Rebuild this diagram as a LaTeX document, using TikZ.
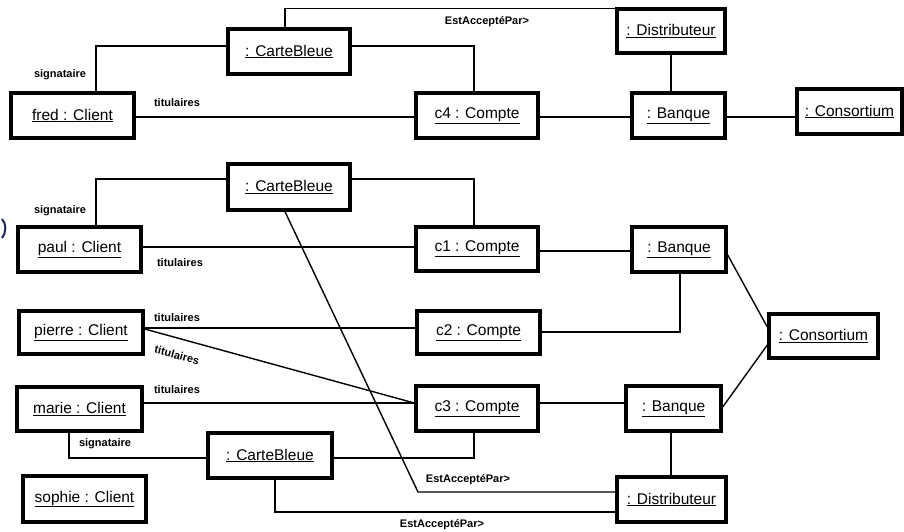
\documentclass[tikz,border=0pt]{standalone}
\usepackage{fontspec}
\setmainfont{Liberation Sans}
\begin{document}
\begin{tikzpicture}[x=1pt,y=-1pt,
  obj/.style={draw, line width=3.4pt, inner sep=0pt, fill=white,
    font=\fontsize{15.5}{18}\selectfont},
  link/.style={line width=1.4pt},
  lbl/.style={font=\bfseries\fontsize{11}{13}\selectfont, inner sep=0pt}]
\useasboundingbox (0,0) rectangle (904,531);

% ---- first configuration ----
\node[obj, minimum width=122pt, minimum height=45pt] (cbA)    at (289,51.5)  {\underline{: CarteBleue}};
\node[obj, minimum width=123pt, minimum height=45pt] (fred)   at (72.5,115.5) {\underline{fred : Client}};
\node[obj, minimum width=122pt, minimum height=45pt] (c4)     at (477,115.5) {\underline{c4 : Compte}};
\node[obj, minimum width=108pt, minimum height=44pt] (distA)  at (671,31)    {\underline{: Distributeur}};
\node[obj, minimum width=93pt,  minimum height=45pt] (bqA)    at (678.5,115.5) {\underline{: Banque}};
\node[obj, minimum width=105pt, minimum height=45pt] (consA)  at (849.5,111.5) {\underline{: Consortium}};

\draw[link] (cbA.north -| 285,0) |- ([yshift=-1pt]distA.north west);
\draw[link] (cbA.east |- 0,46) -| (c4.north -| 474,0);
\draw[link] (cbA.west |- 0,46) -| (fred.north -| 96,0);
\draw[link] (fred.east |- 0,117) -- (c4.west |- 0,117);
\draw[link] (c4.east |- 0,117) -- (bqA.west |- 0,117);
\draw[link] (distA.south) -- (distA.south |- bqA.north);
\draw[link] (bqA.east |- 0,117) -- (consA.west |- 0,117);

\node[lbl] (lEstA) at (487,22) {EstAcceptéPar>};
\node[lbl] (lSigA) at (60,75) {signataire};
\node[lbl] (lTitA) at (177,103) {titulaires};

% ---- second configuration ----
\node[obj, minimum width=122pt, minimum height=46pt] (cbB)    at (289,187)   {\underline{: CarteBleue}};
\node[obj, minimum width=123pt, minimum height=45pt] (paul)   at (79.5,249.5) {\underline{paul : Client}};
\node[obj, minimum width=124pt, minimum height=43pt] (pierre) at (81,332.5)  {\underline{pierre : Client}};
\node[obj, minimum width=125pt, minimum height=44pt] (marie)  at (79.5,409)  {\underline{marie : Client}};
\node[obj, minimum width=123pt, minimum height=46pt] (sophie) at (84.5,499)  {\underline{sophie : Client}};
\node[obj, minimum width=122pt, minimum height=44pt] (c1)     at (477,249)   {\underline{c1 : Compte}};
\node[obj, minimum width=123pt, minimum height=43pt] (c2)     at (478.5,332.5) {\underline{c2 : Compte}};
\node[obj, minimum width=122pt, minimum height=45pt] (c3)     at (477,408.5) {\underline{c3 : Compte}};
\node[obj, minimum width=94pt,  minimum height=45pt] (bqB)    at (679,249.5) {\underline{: Banque}};
\node[obj, minimum width=95pt,  minimum height=45pt] (bqC)    at (673.5,408.5) {\underline{: Banque}};
\node[obj, minimum width=109pt, minimum height=44pt] (consB)  at (823.5,336)  {\underline{: Consortium}};
\node[obj, minimum width=124pt, minimum height=45pt] (cbC)    at (270,455.5) {\underline{: CarteBleue}};
\node[obj, minimum width=109pt, minimum height=45pt] (distC)  at (671.5,499.5) {\underline{: Distributeur}};

\coordinate (bend) at (418,492);

\draw[link] (cbB.west |- 0,179) -| (paul.north -| 96,0);
\draw[link] (cbB.east |- 0,179) -| (c1.north -| 474,0);
\draw[link] (paul.east |- 0,247) -- (c1.west |- 0,247);
\draw[link] (c1.east |- 0,251) -- (bqB.west |- 0,251);
\draw[link] (bqB.south -| 680,0) |- (c2.east |- 0,332);
\draw[link] (pierre.east |- 0,328) -- (c2.west |- 0,328);
\draw[link] (pierre.east |- 0,329) -- (c3.west |- 0,403);
\draw[link] (bqB.east |- 0,255) -- (consB.west |- 0,327);
\draw[link] (consB.west |- 0,345) -- (bqC.east |- 0,407);
\draw[link] (cbB.south -| 285,0) -- (bend) -- (distC.west |- bend);
\draw[link] (marie.east |- 0,403) -- (c3.west |- 0,403);
\draw[link] (marie.south -| 69,0) |- (cbC.west |- 0,458);
\draw[link] (cbC.east |- 0,458) -| (c3.south -| 474,0);
\draw[link] (c3.east |- 0,403) -- (bqC.west |- 0,403);
\draw[link] (bqC.south -| 671,0) -- (distC.north -| 671,0);
\draw[link] (cbC.south -| 275,0) |- (distC.west |- 0,512);

\node[lbl] (lSigB) at (60,211) {signataire};
\node[lbl] (lTitB) at (180,263) {titulaires};
\node[lbl] (lTitC) at (177,318) {titulaires};
\node[lbl, rotate=-15] (lTitD) at (177,355) {titulaires};
\node[lbl] (lTitE) at (177,390) {titulaires};
\node[lbl] (lSigC) at (105,444) {signataire};
\node[lbl] (lEstB) at (468,480) {EstAcceptéPar>};
\node[lbl] (lEstC) at (442,525) {EstAcceptéPar>};

% stray bracket mark at the left margin
\draw[line width=2pt, color={rgb,255:red,30;green,40;blue,90}]
  (2,219) .. controls (6.5,224) and (6.5,232) .. (2,238);
\end{tikzpicture}
\end{document}
